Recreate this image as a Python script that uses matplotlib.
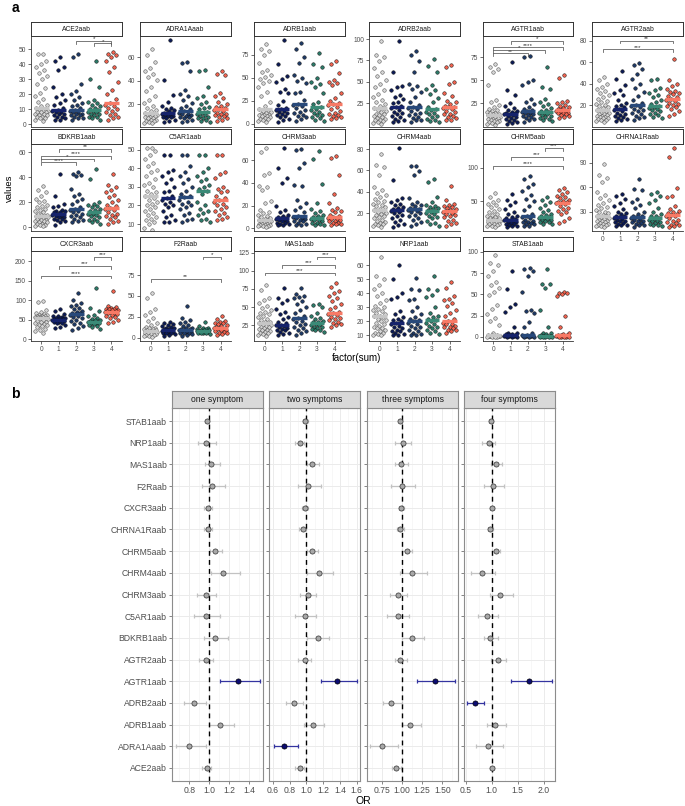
import numpy as np
import matplotlib
matplotlib.use("Agg")
import matplotlib.pyplot as plt
from matplotlib.ticker import MultipleLocator

plt.rcParams['font.family'] = ['Liberation Sans', 'DejaVu Sans']

# ---------- panel a : antibody values per factor(sum) group 0..4 ----------
ACE2aab = [
    [47, 47, 42, 40, 38, 36, 34, 32, 30, 27, 24, 21, 19, 17, 15, 13, 12, 11, 10, 10, 9, 9, 8, 8, 8, 7, 7, 6, 6, 5, 5, 4, 4, 3, 2],
    [45, 42, 38, 36, 25, 20, 18, 16, 14, 13, 11, 9.5, 9, 8, 8, 7, 7, 6, 5, 5, 4, 3, 3],
    [47, 45, 27, 22, 20, 18, 16, 14, 13, 12, 11, 9.5, 9, 8, 8, 7, 7, 6, 6, 5, 4, 4, 3],
    [42, 30, 25, 16, 15, 14, 13, 12, 11, 10, 9.5, 9, 8, 8, 7, 7, 6, 5, 5, 4, 3],
    [48, 47, 46, 45, 42, 38, 35, 28, 23, 20, 17, 14.5, 13, 12, 11, 10, 9, 8, 7, 6, 5, 4, 3],
]
ADRA1Aaab = [
    [67, 62, 56, 51, 48, 46, 43, 41, 35, 31, 27, 24, 21, 19, 17, 15, 14, 13, 12, 12, 11, 11, 10, 10, 9, 9, 8, 8, 7, 7, 6, 6, 5, 4, 4],
    [75, 41, 28, 22, 19, 17, 16, 15, 14, 13, 13, 12.3, 12, 11, 11, 10, 10, 9, 9, 8, 7, 6, 5],
    [56, 55, 48, 32, 29, 27, 24, 21, 19, 17, 16, 14.3, 13, 12, 12, 11, 10, 9, 9, 8, 7, 6, 5],
    [49, 48, 35, 27, 25, 22, 20, 18, 17, 16, 13.8, 13, 12, 11, 10, 9, 8, 8, 7, 6, 5],
    [48, 46, 45, 30, 27, 25, 22, 20, 19, 18, 17, 15.7, 15, 14, 13, 12, 12, 11, 10, 9, 8, 7, 6],
]
ADRB1aab = [
    [87, 81, 79, 75, 66, 59, 56, 53, 51, 49, 47, 44, 40, 35, 30, 24, 19, 16, 15, 14, 13, 12, 11, 10, 10, 9, 8, 8, 7, 6, 5, 5, 4, 3, 2],
    [91, 65, 52, 49, 46, 38, 35, 33, 25, 20, 17, 15.6, 15, 14, 13, 12, 11, 10, 8, 7, 5, 4, 2],
    [88, 82, 73, 66, 53, 50, 47, 44, 35, 33, 26, 21.5, 20, 19, 17, 15, 13, 12, 10, 8, 7, 5, 3],
    [77, 65, 62, 50, 46, 43, 40, 33, 24, 22, 17.8, 16, 15, 13, 12, 10, 9, 7, 6, 4, 3],
    [68, 65, 55, 48, 45, 44, 42, 33, 28, 25, 23, 21.5, 20, 18, 16, 14, 12, 11, 9, 8, 7, 6, 5],
]
ADRB2aab = [
    [98, 81, 79, 74, 66, 62, 57, 52, 48, 44, 40, 36, 32, 29, 26, 24, 22, 20, 19, 17, 16, 15, 13, 12, 11, 10, 9, 8, 7, 6, 5, 4, 3, 2, 1],
    [98, 61, 45, 44, 40, 35, 32, 30, 27, 25, 22, 20.3, 19, 17, 15, 14, 12, 10, 9, 7, 5, 4, 3],
    [86, 81, 74, 62, 48, 45, 42, 38, 32, 27, 23, 20.3, 19, 18, 16, 14, 12, 11, 9, 8, 6, 5, 3],
    [77, 68, 61, 46, 42, 40, 36, 31, 26, 21, 18.4, 17, 15, 14, 12, 10, 9, 7, 6, 4, 3],
    [70, 67, 50, 48, 37, 33, 28, 26, 24, 22, 21, 20.3, 19, 18, 16, 15, 13, 12, 10, 9, 8, 6, 5],
]
AGTR1aab = [
    [68, 65, 62, 59, 45, 29, 26, 23, 21, 19, 18, 17, 16, 15, 14, 13, 13, 12, 11, 11, 10, 10, 9, 9, 8, 8, 7, 7, 6, 6, 5, 5, 4, 3, 2],
    [70, 40, 34, 25, 22, 20, 18, 17, 16, 15, 14, 13.4, 13, 12, 11, 10, 9, 8, 7, 6, 5, 4, 3],
    [76, 75, 50, 48, 45, 30, 27, 24, 21, 19, 18, 16.7, 16, 15, 14, 13, 12, 11, 10, 9, 8, 7, 5],
    [64, 43, 41, 30, 27, 24, 22, 20, 18, 17, 16, 15, 14, 13, 12, 11, 10, 9, 8, 7, 6],
    [56, 53, 28, 26, 25, 23, 22, 21, 20, 19, 18, 17.8, 17, 16, 16, 15, 14, 14, 13, 12, 11, 10, 9],
]
AGTR2aab = [
    [46, 43, 40, 37, 35, 33, 31, 29, 27, 26, 24, 23, 21, 20, 19, 18, 17, 15, 14, 13, 13, 12, 12, 11, 10, 10, 9, 9, 8, 8, 7, 6, 6, 5, 4],
    [52, 44, 39, 34, 31, 29, 25, 22, 20, 19, 18, 16.3, 15, 14, 13, 12, 11, 10, 9, 8, 7, 6, 5],
    [59, 57, 54, 49, 44, 40, 36, 32, 28, 25, 22, 20, 19, 18, 16, 15, 14, 13, 12, 10, 9, 8, 6],
    [44, 43, 36, 34, 31, 29, 27, 25, 23, 21, 19.4, 18, 17, 16, 15, 14, 13, 12, 11, 9, 8],
    [63, 43, 40, 38, 35, 33, 32, 31, 30, 28, 27, 26, 25, 24, 22, 21, 20, 19, 18, 16, 14, 12, 10],
]
BDKRB1aab = [
    [33, 30, 28, 25, 23, 21, 20, 18, 17, 16, 15, 14, 13, 12, 11, 10, 10, 9, 9, 8, 8, 7, 7, 6, 6, 5, 5, 4, 4, 3, 3, 2, 2, 1, 1],
    [43, 25, 19, 17, 16, 14, 13, 13, 12, 12, 11, 10.5, 10, 9, 9, 8, 8, 7, 7, 6, 5, 4, 2],
    [44, 43, 42, 41, 31, 27, 25, 23, 21, 19, 16, 14.5, 14, 13, 12, 11, 10, 9, 8, 7, 6, 5, 4],
    [47, 39, 20, 19, 18, 17, 16, 15, 14, 13, 12, 11, 11, 10, 9, 8, 7, 6, 5, 4, 3],
    [43, 34, 32, 30, 28, 26, 24, 22, 20, 18, 17, 15.5, 15, 14, 12, 11, 10, 9, 8, 7, 5, 4, 3],
]
C5AR1aab = [
    [51, 51, 49, 47, 45, 43, 41, 39, 38, 36, 34, 32, 31, 30, 28, 27, 26, 25, 24, 23, 22, 21, 20, 19, 18, 17, 16, 15, 14, 13, 12, 11, 10, 8, 7],
    [47, 47, 39, 38, 36, 34, 32, 30, 28, 27, 25, 24, 23, 22, 21, 20, 19, 17, 15, 14, 12, 11, 11],
    [47, 47, 41, 38, 36, 34, 32, 30, 28, 26, 25, 24.5, 23, 22, 21, 20, 19, 18, 16, 15, 13, 12, 11],
    [47, 47, 40, 38, 36, 34, 33, 31, 30, 29, 28, 26, 22, 20, 18, 17, 16, 15, 13, 12, 11],
    [47, 47, 38, 37, 35, 30, 29, 28, 27, 25, 24, 23, 22, 21, 20, 19, 18, 17, 16, 15, 14, 13, 12],
]
CHRM3aab = [
    [71, 67, 49, 47, 37, 36, 34, 24, 22, 16, 14, 13, 12, 11, 10, 9, 8, 7, 7, 6, 6, 6, 5, 5, 5, 4, 4, 4, 3, 3, 3, 2, 2, 2, 1],
    [71, 53, 44, 40, 20, 16, 14, 12, 11, 10, 9, 8.7, 8, 7, 7, 6, 6, 5, 5, 4, 4, 3, 3],
    [70, 69, 58, 53, 38, 37, 25, 22, 19, 16, 14, 11, 10, 9, 9, 8, 7, 6, 6, 5, 4, 3, 3],
    [68, 61, 39, 22, 17, 15, 13, 12, 11, 10, 9.3, 9, 8, 7, 7, 6, 5, 5, 4, 3, 3],
    [64, 62, 47, 30, 22, 18, 16, 15, 14, 12, 11, 10, 9, 8, 8, 7, 6, 6, 5, 5, 4, 4, 3],
]
CHRM4aab = [
    [75, 65, 63, 56, 44, 42, 39, 37, 35, 33, 31, 30, 29, 28, 27, 26, 24, 23, 22, 21, 20, 19, 18, 17, 16, 15, 14, 13, 12, 11, 10, 10, 9, 8, 7],
    [81, 51, 34, 32, 30, 29, 28, 26, 25, 24, 23, 22.5, 22, 21, 20, 18, 17, 15, 14, 12, 10, 9, 7],
    [64, 64, 59, 56, 34, 30, 29, 28, 27, 25, 24, 23.5, 23, 22, 21, 20, 18, 17, 15, 14, 12, 10, 8],
    [52, 49, 35, 30, 28, 27, 26, 25, 24, 23, 21.6, 21, 20, 19, 17, 16, 15, 13, 11, 10, 8],
    [45, 32, 29, 28, 27, 26, 25, 24, 23, 22, 22, 21.6, 21, 20, 19, 18, 17, 16, 14, 13, 11, 10, 8],
]
CHRM5aab = [
    [62, 56, 52, 49, 46, 44, 41, 38, 35, 33, 31, 29, 27, 26, 25, 24, 23, 22, 21, 21, 20, 20, 19, 19, 18, 18, 17, 17, 16, 16, 15, 14, 13, 12, 11],
    [60, 52, 48, 44, 38, 34, 30, 28, 26, 24, 23, 21.5, 21, 20, 19, 18, 17, 16, 15, 14, 13, 12, 11],
    [88, 84, 76, 71, 65, 59, 53, 50, 42, 36, 31, 28, 26, 24, 22, 20, 19, 18, 17, 16, 15, 13, 12],
    [56, 52, 48, 44, 40, 36, 33, 31, 29, 28, 26.5, 25, 24, 23, 22, 21, 20, 19, 18, 16, 15],
    [69, 66, 64, 60, 58, 56, 54, 52, 50, 49, 48, 47.5, 47, 45, 42, 40, 38, 35, 33, 30, 25, 20, 17],
]
CHRNA1Raab = [
    [88, 75, 71, 66, 54, 50, 47, 44, 41, 38, 36, 34, 32, 30, 29, 28, 26, 25, 24, 23, 22, 21, 20, 19, 19, 18, 17, 16, 15, 15, 14, 13, 12, 12, 11],
    [52, 49, 45, 40, 37, 33, 30, 28, 27, 25, 24, 23, 22, 21, 20, 19, 18, 17, 16, 15, 14, 13, 12],
    [70, 58, 56, 46, 42, 38, 34, 30, 27, 25, 24, 23, 22, 21, 20, 19, 18, 17, 16, 15, 14, 13, 11],
    [54, 51, 49, 44, 40, 34, 30, 27, 25, 24, 22, 21, 20, 19, 18, 17, 16, 15, 14, 13, 12],
    [108, 97, 59, 49, 48, 37, 33, 31, 29, 28, 27, 26, 25, 24, 22, 20, 18, 17, 16, 14, 13, 12, 11],
]
CXCR3aab = [
    [97, 95, 75, 70, 66, 64, 62, 61, 60, 59, 58, 57, 57, 56, 56, 55, 55, 55, 54, 53, 51, 49, 47, 45, 43, 41, 39, 37, 35, 33, 30, 27, 24, 20, 15],
    [76, 72, 64, 60, 58, 56, 55, 54, 53, 52, 51, 50, 49, 48, 47, 46, 45, 44, 42, 40, 36, 32, 28],
    [117, 100, 93, 88, 85, 80, 76, 73, 70, 68, 66, 64, 62, 60, 57, 54, 50, 46, 42, 38, 34, 28, 22],
    [131, 80, 73, 63, 58, 55, 52, 50, 48, 47, 45, 44, 43, 42, 41, 40, 38, 36, 33, 30, 26],
    [124, 84, 82, 80, 78, 77, 76, 75, 74, 72, 71, 70, 69, 68, 67, 65, 63, 60, 57, 54, 50, 45, 40],
]
F2Raab = [
    [53, 47, 34, 31, 27, 23, 20, 17, 15, 13, 12, 11, 10, 10, 9, 9, 8, 8, 8, 7, 7, 7, 6, 6, 6, 5, 5, 5, 4, 4, 3, 3, 2, 2, 1],
    [19, 18, 16, 15, 14, 13, 12, 11, 10, 10, 9, 9, 8, 8, 7, 7, 6, 6, 5, 5, 4, 3, 2],
    [38, 23, 21, 19, 17, 15, 14, 12, 11, 10, 10, 9, 9, 8, 8, 7, 7, 6, 5, 5, 4, 3, 2],
    [19, 14, 12, 11, 10, 10, 9, 9, 9, 8, 8.2, 8, 8, 7, 7, 7, 6, 6, 5, 5, 4],
    [26, 22, 20, 19, 18, 17, 16, 15, 14, 13, 12, 12, 11, 10, 10, 9, 9, 8, 7, 6, 5, 4, 3],
]
MAS1aab = [
    [80, 73, 62, 60, 56, 52, 49, 46, 44, 42, 40, 38, 36, 34, 32, 30, 29, 28, 27, 26, 25, 24, 23, 22, 21, 20, 19, 18, 17, 16, 15, 14, 13, 12, 10],
    [77, 62, 60, 56, 48, 44, 40, 37, 33, 30, 28, 26, 25, 24, 22, 21, 20, 19, 18, 16, 15, 13, 12],
    [77, 68, 66, 64, 62, 58, 54, 50, 46, 42, 38, 35.5, 33, 31, 29, 27, 25, 23, 21, 19, 17, 15, 12],
    [55, 53, 50, 42, 38, 35, 33, 31, 30, 29, 28, 27, 26, 25, 23, 22, 21, 20, 19, 18, 16],
    [83, 78, 72, 69, 65, 62, 58, 54, 50, 47, 44, 41.5, 40, 39, 37, 35, 33, 32, 30, 28, 27, 25, 23],
]
NRP1aab = [
    [66, 52, 50, 46, 43, 40, 38, 35, 33, 31, 30, 29, 28, 27, 26, 25, 24, 23.5, 23, 22, 21, 20, 19, 18, 17, 16, 15, 15, 14, 13, 12, 12, 11, 10, 10],
    [60, 50, 40, 37, 36, 27, 25, 23, 22, 21, 20, 19, 18, 17, 16, 15, 14, 13, 13, 12, 11, 10, 10],
    [51, 43, 42, 36, 35, 30, 27, 25, 23, 22, 21, 20, 19, 18, 17, 16, 15, 14, 13, 12, 11, 10, 10],
    [52, 43, 42, 39, 37, 30, 26, 24, 23, 22, 21, 20, 19, 18, 17, 16, 15, 14, 13, 12, 11],
    [48, 44, 38, 36, 35, 33, 31, 28, 26, 24, 22, 20.2, 19, 18, 18, 17, 16, 16, 15, 14, 14, 13, 12],
]
STAB1aab = [
    [96, 87, 84, 78, 72, 65, 61, 57, 53, 49, 37, 33, 27, 22, 18, 14, 5, 2, 2, 2, 1, 1, 1, 1, 1, 1, 0.5, 0.5, 0.5, 0.5, 0.5, 0.3, 0.3, 0.2, 0.1],
    [78, 56, 38, 35, 29, 12, 5, 4, 3, 3, 2, 1.5, 1, 1, 1, 1, 0.5, 0.5, 0.5, 0.5, 0.3, 0.2, 0.1],
    [81, 80, 77, 72, 53, 32, 30, 28, 17, 11, 4, 2, 1.5, 1, 1, 1, 1, 0.5, 0.5, 0.5, 0.3, 0.2, 0.1],
    [80, 62, 62, 57, 32, 12, 5, 4, 3, 2, 1, 1, 1, 0.5, 0.5, 0.5, 0.3, 0.3, 0.2, 0.1, 0.1],
    [53, 52, 51, 50, 48, 25, 12, 5, 3, 2, 2, 1.5, 1, 1, 1, 0.5, 0.5, 0.5, 0.3, 0.3, 0.2, 0.1, 0.1],
]

panel_names = ['ACE2aab', 'ADRA1Aaab', 'ADRB1aab', 'ADRB2aab', 'AGTR1aab', 'AGTR2aab',
               'BDKRB1aab', 'C5AR1aab', 'CHRM3aab', 'CHRM4aab', 'CHRM5aab', 'CHRNA1Raab',
               'CXCR3aab', 'F2Raab', 'MAS1aab', 'NRP1aab', 'STAB1aab']
panel_values = [ACE2aab, ADRA1Aaab, ADRB1aab, ADRB2aab, AGTR1aab, AGTR2aab,
                BDKRB1aab, C5AR1aab, CHRM3aab, CHRM4aab, CHRM5aab, CHRNA1Raab,
                CXCR3aab, F2Raab, MAS1aab, NRP1aab, STAB1aab]

# significance brackets: (group from, group to, label, height)
brackets = {
    'ACE2aab': [(3, 4, '*', 54), (2, 4, '*', 55.5)],
    'AGTR1aab': [(0, 2, '**', 79.5), (0, 3, '*', 83), (0, 4, '****', 86), (1, 4, '*', 93)],
    'AGTR2aab': [(0, 4, '***', 72), (1, 4, '**', 80)],
    'BDKRB1aab': [(0, 2, '****', 52), (0, 3, '*', 55), (0, 4, '****', 57), (1, 4, '**', 62.5)],
    'CHRM5aab': [(0, 4, '****', 103), (1, 4, '***', 116.5), (3, 4, '***', 130)],
    'CXCR3aab': [(0, 4, '****', 163), (1, 4, '***', 188), (3, 4, '***', 211)],
    'F2Raab': [(0, 4, '**', 70), (3, 4, '*', 97)],
    'MAS1aab': [(0, 4, '***', 97.5), (1, 4, '***', 108), (3, 4, '***', 119.5)],
}

# ---------- panel b : odds ratios (bottom ACE2aab -> top STAB1aab) ----------
genes_b = ['ACE2aab', 'ADRA1Aaab', 'ADRB1aab', 'ADRB2aab', 'AGTR1aab', 'AGTR2aab',
           'BDKRB1aab', 'C5AR1aab', 'CHRM3aab', 'CHRM4aab', 'CHRM5aab', 'CHRNA1Raab',
           'CXCR3aab', 'F2Raab', 'MAS1aab', 'NRP1aab', 'STAB1aab']
facet_names = ['one symptom', 'two symptoms', 'three symptoms', 'four symptoms']

or_one = [0.98, 0.80, 1.11, 0.85, 1.29, 0.97, 1.06, 0.97, 0.97, 1.14, 1.06, 0.99, 0.99, 1.03, 1.02, 0.97, 0.98]
lo_one = [0.93, 0.67, 1.00, 0.75, 1.11, 0.90, 0.95, 0.85, 0.88, 1.02, 1.01, 0.95, 0.95, 0.93, 0.96, 0.89, 0.97]
hi_one = [1.02, 0.97, 1.25, 0.97, 1.51, 1.04, 1.19, 1.11, 1.07, 1.31, 1.13, 1.03, 1.03, 1.16, 1.11, 1.07, 0.99]

or_two = [0.92, 0.74, 1.08, 0.85, 1.36, 0.98, 1.14, 0.98, 1.02, 1.15, 1.07, 0.96, 0.99, 1.02, 1.07, 0.92, 0.99]
lo_two = [0.87, 0.61, 0.97, 0.76, 1.17, 0.90, 1.01, 0.86, 0.92, 1.01, 1.01, 0.91, 0.95, 0.90, 1.01, 0.87, 0.96]
hi_two = [0.97, 0.90, 1.21, 0.96, 1.60, 1.06, 1.27, 1.12, 1.12, 1.32, 1.14, 1.00, 1.02, 1.17, 1.15, 0.97, 1.02]

or_three = [0.93, 0.76, 1.10, 0.87, 1.41, 0.98, 1.13, 0.95, 0.95, 1.13, 1.06, 0.98, 0.99, 1.00, 0.99, 1.01, 0.98]
lo_three = [0.88, 0.61, 1.00, 0.77, 1.19, 0.91, 1.00, 0.82, 0.85, 0.98, 1.00, 0.94, 0.96, 0.86, 0.92, 0.92, 0.96]
hi_three = [0.99, 0.95, 1.23, 1.00, 1.65, 1.06, 1.27, 1.09, 1.06, 1.31, 1.12, 1.03, 1.02, 1.16, 1.08, 1.11, 1.00]

or_four = [1.01, 0.92, 1.06, 0.67, 1.72, 1.13, 0.97, 0.91, 1.16, 0.81, 1.08, 0.97, 1.01, 1.03, 1.08, 0.94, 0.99]
lo_four = [0.97, 0.69, 0.90, 0.53, 1.38, 0.99, 0.85, 0.74, 0.97, 0.60, 1.01, 0.92, 0.97, 0.85, 0.98, 0.81, 0.95]
hi_four = [1.05, 1.22, 1.27, 0.85, 2.15, 1.27, 1.12, 1.13, 1.40, 1.06, 1.15, 1.02, 1.04, 1.23, 1.20, 1.07, 1.03]

sig_b = [['AGTR1aab'], ['ADRA1Aaab', 'AGTR1aab'], ['AGTR1aab'], ['ADRB2aab', 'AGTR1aab']]

# ---------------------------------------------------------------------------
W, H = 685, 806
fig = plt.figure(figsize=(W / 100, H / 100), dpi=100)


def px_box(x0, y0, x1, y1):
    # pixel box (top-left origin) -> figure fraction rect
    return [x0 / W, 1 - y1 / H, (x1 - x0) / W, (y1 - y0) / H]


grp_fill = ['#D4D4D4', '#0B1A55', '#1D3966', '#2B7A68', '#F0624E']
grp_edge = ['#4A4A4A', '#111111', '#111111', '#111111', '#111111']
bar_col = ['#C6C6C6', '#16236B', '#28497A', '#3B8A77', '#F77A66']
axis_col = '#333333'
tick_txt = '#4D4D4D'

col_x = [(30.7, 122), (140, 231), (254, 345), (369, 460), (483, 573), (592, 683)]
row_y = [(22, 36, 127), (129, 144, 231), (237, 251, 341)]  # strip top, panel top, panel bottom

ylims = [(-1.8, 58.9), (0.7, 78.2), (-3.6, 95.7), (-2.6, 103.5), (-0.7, 98.2), (-0.5, 84.3),
         (-3, 66.6), (6.3, 53), (-2.5, 74.5), (3.3, 84.7), (5, 136), (6.2, 112.9),
         (-5, 226), (-4.2, 103.8), (3.4, 127.3), (6, 70), (-5, 101)]
yticks = [[0, 10, 20, 30, 40, 50], [20, 40, 60], [0, 25, 50, 75], [25, 50, 75, 100], [25, 50, 75], [20, 40, 60, 80],
          [0, 20, 40, 60], [10, 20, 30, 40, 50], [0, 20, 40, 60], [20, 40, 60, 80], [50, 100], [30, 60, 90],
          [0, 50, 100, 150, 200], [0, 25, 50, 75], [25, 50, 75, 100, 125], [10, 20, 30, 40, 50, 60],
          [0, 25, 50, 75, 100]]


def jitter(n):
    # deterministic spread of the points inside a group
    return ((np.arange(1, n + 1) * 0.6180339887) % 1.0 - 0.5) * 0.78


for i, (name, groups) in enumerate(zip(panel_names, panel_values)):
    r, c = divmod(i, 6)
    x0, x1 = col_x[c]
    stop, ptop, pbot = row_y[r]
    ax = fig.add_axes(px_box(x0, ptop, x1, pbot))
    for g, vals in enumerate(groups):
        vals = np.asarray(vals, dtype=float)
        ax.scatter(g + jitter(len(vals)), vals, s=6.5, c=grp_fill[g], edgecolors=grp_edge[g],
                   linewidths=0.35, zorder=2)
        med = np.median(vals)
        ax.plot([g - 0.42, g + 0.42], [med, med], color=bar_col[g], lw=2.4,
                solid_capstyle='butt', zorder=3)
    lo, hi = ylims[i]
    ax.set_xlim(-0.6, 4.6)
    ax.set_ylim(lo, hi)
    leg = 0.03 * (hi - lo)
    for a, b, lab, yv in brackets.get(name, []):
        ax.plot([a, a, b, b], [yv - leg, yv, yv, yv - leg], color='#555555', lw=0.55, zorder=4)
        ax.text((a + b) / 2, yv - 0.004 * (hi - lo), lab, ha='center', va='bottom', fontsize=4.6,
                color='#333333')
    ax.set_yticks(yticks[i])
    ax.set_xticks(range(5))
    for s in ['top', 'right']:
        ax.spines[s].set_visible(False)
    for s in ['left', 'bottom']:
        ax.spines[s].set_color(axis_col)
        ax.spines[s].set_linewidth(0.6)
    ax.tick_params(axis='y', length=2.2, width=0.5, color=axis_col, labelsize=4.8,
                   labelcolor=tick_txt, pad=1.2)
    if i >= 11:
        ax.tick_params(axis='x', length=2.2, width=0.5, color=axis_col, labelsize=4.8,
                       labelcolor=tick_txt, pad=1.5)
    else:
        ax.tick_params(axis='x', length=0, labelbottom=False)
    ax.patch.set_alpha(0)

    st = fig.add_axes(px_box(x0, stop, x1, ptop))
    st.set_xticks([])
    st.set_yticks([])
    for s in st.spines.values():
        s.set_color(axis_col)
        s.set_linewidth(0.7)
    st.text(0.5, 0.45, name, ha='center', va='center', fontsize=4.9, color='#1A1A1A',
            transform=st.transAxes)

fig.text(15 / W, 1 - 8 / H, 'a', weight='bold', fontsize=10, ha='center', va='center')
fig.text(9 / W, 1 - 188 / H, 'values', rotation=90, fontsize=6.8, ha='center', va='center')
fig.text(357 / W, 1 - 358 / H, 'factor(sum)', fontsize=7, ha='center', va='center')

# ---------------------------------------------------------------------------
fig.text(15 / W, 1 - 394 / H, 'b', weight='bold', fontsize=10, ha='center', va='center')

or_b = [or_one, or_two, or_three, or_four]
lo_b = [lo_one, lo_two, lo_three, lo_four]
hi_b = [hi_one, hi_two, hi_three, hi_four]
facet_x = [(172, 263), (269, 360), (367, 458), (464, 555)]
xlims_b = [(0.627, 1.537), (0.556, 1.639), (0.569, 1.693), (0.467, 2.217)]
xticks_b = [[0.8, 1.0, 1.2, 1.4], [0.6, 0.8, 1.0, 1.2, 1.4, 1.6], [0.75, 1.0, 1.25, 1.5], [0.5, 1.0, 1.5, 2.0]]
xlabels_b = [['0.8', '1.0', '1.2', '1.4'], ['0.6', '0.8', '1.0', '1.2', '1.4', '1.6'],
             ['0.75', '1.00', '1.25', '1.50'], ['0.5', '1.0', '1.5', '2.0']]
border = '#8C8C8C'
yy = np.arange(1, len(genes_b) + 1)

for k in range(4):
    x0, x1 = facet_x[k]
    ax = fig.add_axes(px_box(x0, 408, x1, 781))
    orv = np.array(or_b[k])
    lov = np.array(lo_b[k])
    hiv = np.array(hi_b[k])
    sig = np.array([g in sig_b[k] for g in genes_b])
    for mask, ecol, fcol, mec in [(~sig, '#C2C2C2', '#A8A8A8', '#333333'),
                                  (sig, '#3434A0', '#0C0C72', '#000000')]:
        ax.errorbar(orv[mask], yy[mask], xerr=[orv[mask] - lov[mask], hiv[mask] - orv[mask]],
                    fmt='none', ecolor=ecol, elinewidth=0.9, capsize=1.3, capthick=0.9, zorder=3)
        ax.plot(orv[mask], yy[mask], 'o', ms=3.7, mfc=fcol, mec=mec, mew=0.5, zorder=5)
    ax.axvline(1, color='black', lw=1.0, ls=(0, (3.5, 3)), zorder=4)
    ax.set_xlim(*xlims_b[k])
    ax.set_ylim(0.4, len(genes_b) + 0.6)
    ax.set_xticks(xticks_b[k])
    ax.set_xticklabels(xlabels_b[k])
    step = xticks_b[k][1] - xticks_b[k][0]
    ax.xaxis.set_minor_locator(MultipleLocator(step / 2))
    ax.set_yticks(yy)
    if k == 0:
        ax.set_yticklabels(genes_b)
    else:
        ax.tick_params(axis='y', labelleft=False, length=0)
    ax.grid(which='major', color='#EBEBEB', lw=0.7)
    ax.grid(which='minor', axis='x', color='#F2F2F2', lw=0.4)
    ax.set_axisbelow(True)
    ax.tick_params(axis='both', which='major', length=2.2, width=0.5, color='#555555',
                   labelsize=6.2, labelcolor=tick_txt, pad=1.5)
    ax.tick_params(axis='x', which='minor', length=0)
    for s in ax.spines.values():
        s.set_color(border)
        s.set_linewidth(0.8)

    st = fig.add_axes(px_box(x0, 391, x1, 408))
    st.set_facecolor('#D9D9D9')
    st.set_xticks([])
    st.set_yticks([])
    for s in st.spines.values():
        s.set_color(border)
        s.set_linewidth(0.8)
    st.text(0.5, 0.48, facet_names[k], ha='center', va='center', fontsize=6.2, color='#1A1A1A',
            transform=st.transAxes)

fig.text(363 / W, 1 - 801 / H, 'OR', fontsize=7.5, ha='center', va='center')

fig.savefig('out.png', dpi=100)
